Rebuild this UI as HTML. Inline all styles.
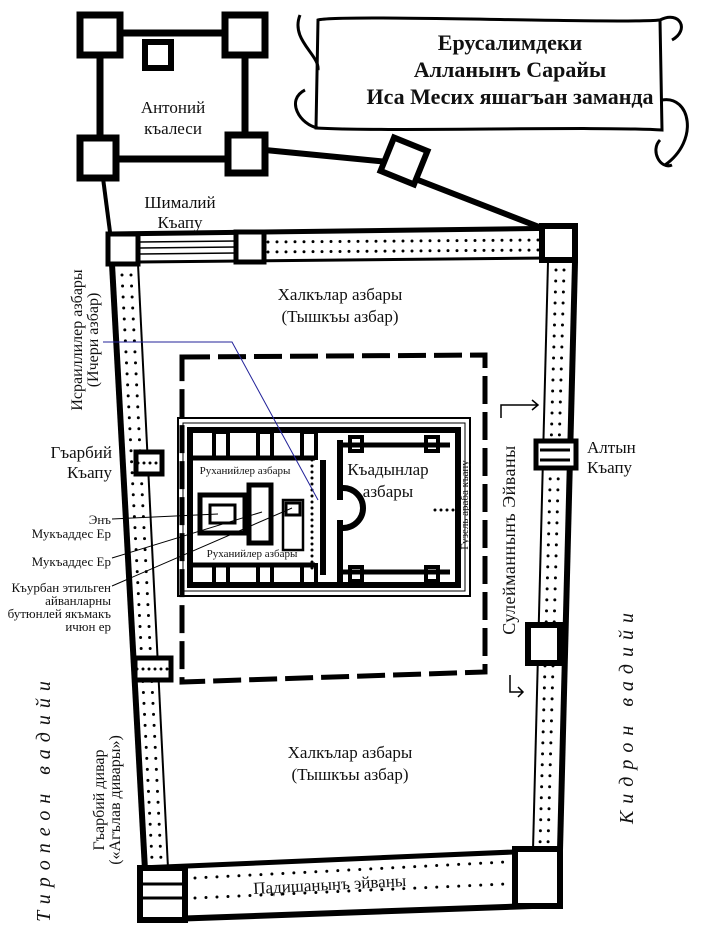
<!DOCTYPE html>
<html><head><meta charset="utf-8"><style>
html,body{margin:0;padding:0;background:#fff}
svg{display:block}
text{font-family:"Liberation Serif",serif;fill:#111}
</style></head><body>
<svg width="705" height="941" viewBox="0 0 705 941" xmlns="http://www.w3.org/2000/svg">
<g fill="none" stroke="#000">
<rect x="100" y="33" width="145" height="126" stroke-width="7"/>
<rect x="80" y="15" width="40" height="40" fill="#fff" stroke-width="7"/>
<rect x="225" y="15" width="40" height="40" fill="#fff" stroke-width="7"/>
<rect x="80" y="138" width="36" height="40" fill="#fff" stroke-width="7"/>
<rect x="228" y="135" width="37" height="38" fill="#fff" stroke-width="7"/>
<rect x="145" y="42" width="26" height="26" stroke-width="6"/>
<path d="M265 150 L388 162" stroke-width="6"/>
<path d="M418 180 L552 232" stroke-width="6"/>
<rect x="386" y="143" width="36" height="36" fill="#fff" stroke-width="6" transform="rotate(22 404 161)"/>
<path d="M103 178 L110 232" stroke-width="4"/>
<path d="M110 234 L575 228" stroke-width="5"/>
<path d="M138 262 L548 258" stroke-width="3"/>
<path d="M140 242 L236 241 M140 248 L236 247 M140 254 L236 253" stroke-width="1.5"/>
<path d="M268 242 L540 240 M268 252 L540 250" stroke-width="3" stroke-dasharray="0 9" stroke-linecap="round"/>
<rect x="108" y="234" width="30" height="30" fill="#fff" stroke-width="5"/>
<rect x="236" y="232" width="28" height="30" fill="#fff" stroke-width="5"/>
<rect x="542" y="226" width="33" height="34" fill="#fff" stroke-width="6"/>
<path d="M112 264 L145 870" stroke-width="6"/>
<path d="M138 264 L168 868" stroke-width="2"/>
<path d="M122 275 L152 860 M131 275 L161 860" stroke-width="3" stroke-dasharray="0 11" stroke-linecap="round"/>
<rect x="136" y="452" width="26" height="22" fill="#fff" stroke-width="5"/>
<path d="M138 463 L160 463" stroke-width="3" stroke-dasharray="0 6" stroke-linecap="round"/>
<rect x="135" y="658" width="36" height="22" fill="#fff" stroke-width="5"/>
<path d="M137 669 L169 669" stroke-width="3" stroke-dasharray="0 6" stroke-linecap="round"/>
<path d="M575 262 L560 850" stroke-width="6"/>
<path d="M548 262 L533 850" stroke-width="2"/>
<path d="M564 270 L548 845 M556 270 L540 845" stroke-width="3" stroke-dasharray="0 11" stroke-linecap="round"/>
<rect x="536" y="441" width="40" height="27" fill="#fff" stroke-width="5"/>
<path d="M540 450 L570 450 M540 460 L570 460" stroke-width="3"/>
<rect x="528" y="625" width="32" height="38" fill="#fff" stroke-width="6"/>
<path d="M140 868 L560 850" stroke-width="5"/>
<path d="M142 920 L560 905" stroke-width="6"/>
<path d="M195 878 L505 862 M195 898 L505 884" stroke-width="3" stroke-dasharray="0 11" stroke-linecap="round"/>
<rect x="140" y="868" width="45" height="52" fill="#fff" stroke-width="6"/>
<path d="M142 884 L185 884 M142 898 L185 898" stroke-width="3"/>
<rect x="515" y="849" width="45" height="57" fill="#fff" stroke-width="6"/>
<path d="M182 357 L485 355 L485 672 L182 682 Z" stroke-width="5" stroke-dasharray="28 8"/>
<rect x="178" y="418" width="292" height="178" stroke-width="2"/>
<rect x="183" y="423" width="282" height="168" stroke-width="1"/>
<rect x="190" y="430" width="268" height="155" stroke-width="6"/>
<path d="M190 458 L315 458 M190 565 L315 565" stroke-width="5"/>
<path d="M340 445 L450 445 M340 572 L450 572" stroke-width="5"/>
<path d="M340 440 L340 500 M340 520 L340 585" stroke-width="6"/>
<path d="M323 460 L323 575" stroke-width="6"/>
<path d="M312 460 L312 570" stroke-width="3" stroke-dasharray="0 6" stroke-linecap="round"/>
<g stroke-width="4">
<rect x="214" y="432" width="14" height="26"/><rect x="258" y="432" width="14" height="26"/><rect x="302" y="432" width="14" height="26"/>
<rect x="214" y="565" width="14" height="19"/><rect x="258" y="565" width="14" height="19"/><rect x="302" y="565" width="14" height="19"/>
<rect x="350" y="437" width="12" height="14"/><rect x="426" y="437" width="12" height="14"/>
<rect x="350" y="567" width="12" height="14"/><rect x="426" y="567" width="12" height="14"/>
</g>
<rect x="200" y="495" width="45" height="38" stroke-width="5"/>
<rect x="210" y="505" width="25" height="18" stroke-width="3"/>
<rect x="249" y="485" width="22" height="58" stroke-width="5"/>
<rect x="283" y="500" width="20" height="50" stroke-width="2.5"/>
<rect x="286" y="503" width="14" height="12" stroke-width="3"/>
<path d="M343 488 A20 20 0 0 1 343 528" stroke-width="6"/>
<path d="M435 510 L455 510" stroke-width="3" stroke-dasharray="0 6" stroke-linecap="round"/>
<path d="M103 342 L232 342 L318 500" stroke="#23239a" stroke-width="1"/>
<path d="M112 519 L218 514 M112 558 L262 512 M112 586 L292 508" stroke-width="1"/>
<path d="M501 418 L501 405 L538 405 M532 400 L538 405 L532 410" stroke-width="1.5"/>
<path d="M510 675 L510 692 L523 692 M518 687 L523 692 L518 697" stroke-width="1.5"/>
<path d="M318 20 C340 14 620 24 660 20 L662 130 C600 126 380 132 316 128 Z" fill="#fff" stroke-width="3"/>
<path d="M300 15 C290 40 320 55 318 70 M305 90 C285 100 300 125 318 128 M660 20 C680 10 690 30 672 40 M662 100 C690 95 700 140 665 165 M660 140 C650 150 660 170 672 165" stroke-width="3"/>
</g>
<g font-size="13" text-anchor="end">
<text x="111" y="524">Энъ</text><text x="111" y="538">Мукъаддес Ер</text>
<text x="111" y="566">Мукъаддес Ер</text>
<text x="111" y="592">Къурбан этильген</text><text x="111" y="605">айванларны</text>
<text x="111" y="618">бутюнлей якъмакъ</text><text x="111" y="631">ичюн ер</text>
</g>
<g text-anchor="middle">
<text x="510" y="50" font-size="22" font-weight="bold">Ерусалимдеки</text>
<text x="510" y="77" font-size="22" font-weight="bold">Алланынъ Сарайы</text>
<text x="510" y="104" font-size="22" font-weight="bold">Иса Месих яшагъан заманда</text>
<text x="173" y="113" font-size="17">Антоний</text><text x="173" y="134" font-size="17">къалеси</text>
<text x="180" y="208" font-size="17">Шималий</text><text x="180" y="228" font-size="17">Къапу</text>
<text x="340" y="300" font-size="17">Халкълар азбары</text><text x="340" y="322" font-size="17">(Тышкъы азбар)</text>
<text x="350" y="758" font-size="17">Халкълар азбары</text><text x="350" y="780" font-size="17">(Тышкъы азбар)</text>
<text x="388" y="475" font-size="17">Къадынлар</text><text x="388" y="497" font-size="17">азбары</text>
<text x="245" y="474" font-size="11">Руханийлер азбары</text>
<text x="252" y="557" font-size="11">Руханийлер азбары</text>
<text x="330" y="890" font-size="17" transform="rotate(-3 330 890)">Падишанынъ эйваны</text>
</g>
<text x="112" y="458" font-size="17" text-anchor="end">Гъарбий</text>
<text x="112" y="478" font-size="17" text-anchor="end">Къапу</text>
<text x="587" y="453" font-size="17">Алтын</text><text x="587" y="473" font-size="17">Къапу</text>
<g font-size="16" text-anchor="middle">
<text transform="translate(82 340) rotate(-90)">Исраиллилер азбары</text>
<text transform="translate(98 340) rotate(-90)">(Ичери азбар)</text>
<text transform="translate(104 800) rotate(-90)">Гъарбий дивар</text>
<text transform="translate(120 800) rotate(-90)">(«Агълав дивары»)</text>
<text transform="translate(515 540) rotate(-90)" font-size="18" letter-spacing="0.5">Сулейманнынъ  Эйваны</text>
<text transform="translate(468 505) rotate(-90)" font-size="11">Гузель араба къапу</text>
<text transform="translate(50 798) rotate(-90)" font-size="20" font-style="italic" letter-spacing="7">Тиропеон вадийи</text>
<text transform="translate(633 715) rotate(-90)" font-size="20" font-style="italic" letter-spacing="7">Кидрон вадийи</text>
</g>
</svg>
</body></html>
